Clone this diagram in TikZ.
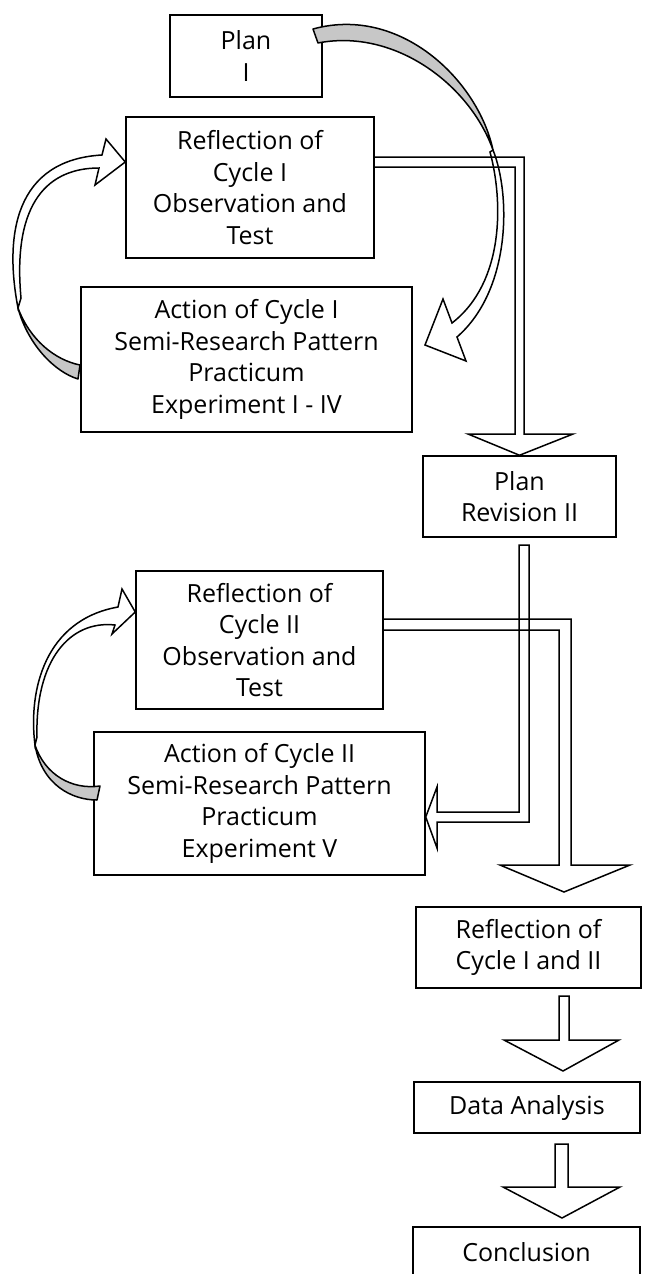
\documentclass[tikz,border=0pt]{standalone}
\usepackage{fontspec}
\setmainfont{Open Sans}
\tikzset{
  box/.style={draw, line width=1.5pt, inner sep=0pt, align=center, font=\fontsize{25}{31.5}\selectfont},
  blockarrow/.style={draw, line width=1.5pt, line join=miter},
  curvefront/.style={draw, line width=1.5pt, fill=white, line join=miter},
  curveback/.style={draw, line width=1.5pt, fill=black!22, line join=round},
}
\begin{document}
\begin{tikzpicture}[x=1pt,y=-1pt]
\useasboundingbox (0,0) rectangle (655,1274);
\clip (0,0) rectangle (655,1274);

% boxes
\node[box, minimum width=152pt, minimum height=82pt] (planI) at (246,56) {Plan\\I};
\node[box, minimum width=248pt, minimum height=141pt] (refl1) at (250,187.5) {Reflection of\\Cycle I\\Observation and\\Test};
\node[box, minimum width=331pt, minimum height=145pt] (act1) at (246.5,359.5) {Action of Cycle I\\Semi-Research Pattern\\Practicum\\Experiment I - IV};
\node[box, minimum width=193pt, minimum height=81pt] (plan2) at (519.5,496.5) {Plan\\Revision II};
\node[box, minimum width=247pt, minimum height=138pt] (refl2) at (259.5,640) {Reflection of\\Cycle II\\Observation and\\Test};
\node[box, minimum width=331pt, minimum height=143pt] (act2) at (259.5,803.5) {Action of Cycle II\\Semi-Research Pattern\\Practicum\\Experiment V};
\node[box, minimum width=225pt, minimum height=81pt] (refl12) at (528.5,947.5) {Reflection of\\Cycle I and II};
\node[box, minimum width=226pt, minimum height=51pt] (data) at (527,1107.5) {Data Analysis};
\node[box, minimum width=227pt, minimum height=51pt] (concl) at (526.5,1252.5) {Conclusion};

% tips of free-ended arrows
\coordinate (tipA) at (425,345);

% curved arrow: Plan I -> Action of Cycle I
\draw[curveback] (313,29) .. controls (400,5) and (478,80) .. (493,150)
  .. controls (470,85) and (395,28) .. (318,43) -- cycle;
\draw[curvefront] (493,150) .. controls (511,195) and (511,290) .. (457,337)
  -- (466,361) -- (tipA) -- (443,299) -- (452,323)
  .. controls (505,282) and (503,200) .. (490,152) -- cycle;

% curved arrow: Action of Cycle I -> Reflection of Cycle I
\draw[curveback] (78,379) .. controls (55,372) and (28,345) .. (18,308)
  .. controls (30,340) and (55,360) .. (80,365) -- cycle;
\draw[curvefront] (18,308) .. controls (4,235) and (15,160) .. (102,155)
  -- (106,139) -- (refl1.west |- 0,162) -- (95,185) -- (99,168)
  .. controls (50,168) and (12,200) .. (21,298) -- cycle;

% curved arrow: Action of Cycle II -> Reflection of Cycle II
\draw[curveback] (97,800) .. controls (72,800) and (42,785) .. (35,745)
  .. controls (45,775) and (72,790) .. (100,786) -- cycle;
\draw[curvefront] (35,745) .. controls (28,690) and (45,620) .. (118,607)
  -- (122,589) -- (refl2.west |- 0,612) -- (112,634) -- (115,625)
  .. controls (70,620) and (35,660) .. (37,737) -- cycle;

% block arrows
\draw[blockarrow] (refl1.east |- 0,157) -- (524,157) -- (524,434) -- (573,434)
  -- (plan2.north) -- (468,434) -- (515,434) -- (515,167) -- (refl1.east |- 0,167);
\draw[blockarrow] (519,545) -- (529,545) -- (529,822) -- (437,822) -- (437,848)
  -- (act2.east |- 0,817) -- (437,787) -- (437,812) -- (519,812) -- cycle;
\draw[blockarrow] (refl2.east |- 0,619) -- (571,619) -- (571,865) -- (630,865)
  -- (564,892) -- (500,865) -- (559,865) -- (559,630) -- (refl2.east |- 0,630);
\draw[blockarrow] (559,996) -- (569,996) -- (569,1040) -- (619,1040)
  -- (563,1071) -- (504,1040) -- (559,1040) -- cycle;
\draw[blockarrow] (555,1144) -- (568,1144) -- (568,1187) -- (620,1187)
  -- (562,1218) -- (503,1187) -- (555,1187) -- cycle;
\end{tikzpicture}
\end{document}
